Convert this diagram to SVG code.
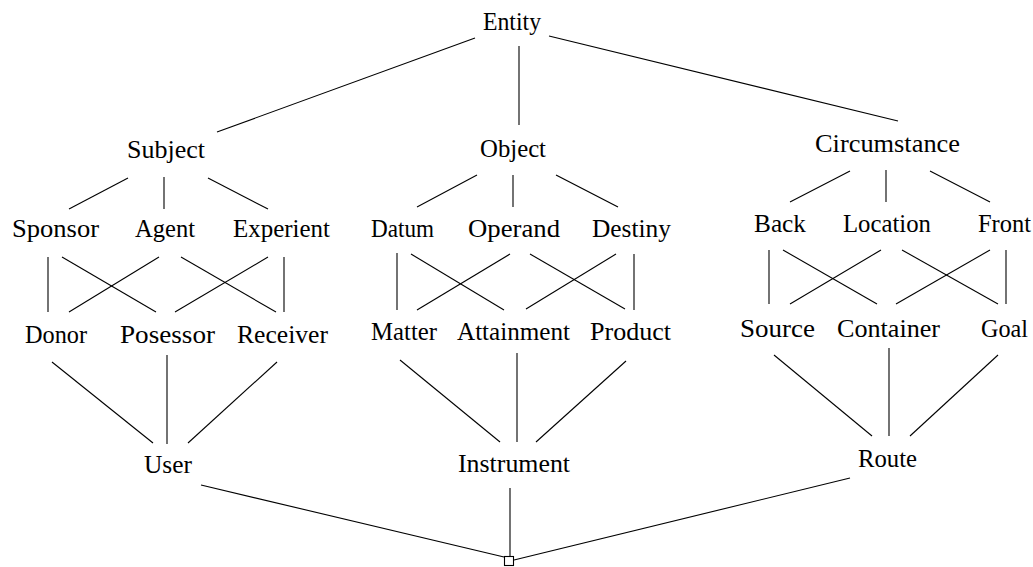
<svg xmlns="http://www.w3.org/2000/svg" width="1033" height="567" viewBox="0 0 1033 567">
<style>
text{font-family:"Liberation Serif","Times New Roman",serif;font-size:25px;fill:#000}
.e line{stroke:#000;stroke-width:1.1;fill:none}
</style>
<rect width="1033" height="567" fill="#fff"/>
<g class="e" id="connectors">
<line x1="475" y1="38" x2="217" y2="132"/>
<line x1="519" y1="46" x2="519" y2="125"/>
<line x1="549" y1="36" x2="898" y2="121"/>
<line x1="128" y1="178" x2="69" y2="209"/>
<line x1="164" y1="177" x2="164" y2="209"/>
<line x1="208" y1="178" x2="268" y2="209"/>
<line x1="477" y1="175" x2="417" y2="207"/>
<line x1="513" y1="175" x2="513" y2="207"/>
<line x1="556" y1="175" x2="618" y2="207"/>
<line x1="850" y1="171" x2="790" y2="202"/>
<line x1="886" y1="170" x2="886" y2="202"/>
<line x1="930" y1="171" x2="990" y2="202"/>
<line x1="48" y1="257" x2="48" y2="312"/>
<line x1="62" y1="257" x2="156" y2="312"/>
<line x1="159" y1="257" x2="69" y2="312"/>
<line x1="181" y1="257" x2="276" y2="312"/>
<line x1="268" y1="257" x2="175" y2="312"/>
<line x1="284" y1="257" x2="284" y2="312"/>
<line x1="397" y1="253" x2="397" y2="310"/>
<line x1="411" y1="254" x2="504" y2="310"/>
<line x1="510" y1="254" x2="417" y2="310"/>
<line x1="530" y1="254" x2="625" y2="309"/>
<line x1="616" y1="254" x2="526" y2="309"/>
<line x1="634" y1="254" x2="634" y2="310"/>
<line x1="769" y1="250" x2="769" y2="304"/>
<line x1="783" y1="250" x2="877" y2="304"/>
<line x1="881" y1="250" x2="790" y2="304"/>
<line x1="902" y1="250" x2="998" y2="304"/>
<line x1="990" y1="250" x2="896" y2="304"/>
<line x1="1006" y1="250" x2="1006" y2="304"/>
<line x1="52" y1="362" x2="153" y2="443"/>
<line x1="167" y1="355" x2="167" y2="444"/>
<line x1="277" y1="362" x2="188" y2="443"/>
<line x1="400" y1="360" x2="500" y2="442"/>
<line x1="517" y1="353" x2="517" y2="442"/>
<line x1="626" y1="361" x2="536" y2="442"/>
<line x1="774" y1="355" x2="872" y2="436"/>
<line x1="889" y1="348" x2="889" y2="436"/>
<line x1="998" y1="355" x2="910" y2="436"/>
<line x1="201" y1="485" x2="504" y2="557"/>
<line x1="510" y1="488" x2="510" y2="556"/>
<line x1="850" y1="478" x2="514" y2="560"/>
</g>
<g id="join"><rect x="504.5" y="556.5" width="9" height="9" fill="#fff" stroke="#000" stroke-width="1.1"/></g>
<g id="entity"><text x="483" y="30" textLength="58" lengthAdjust="spacingAndGlyphs">Entity</text></g>
<g id="subject"><text x="127" y="158" textLength="78" lengthAdjust="spacingAndGlyphs">Subject</text></g>
<g id="object"><text x="480" y="157" textLength="66" lengthAdjust="spacingAndGlyphs">Object</text></g>
<g id="circumstance"><text x="815" y="152" textLength="145" lengthAdjust="spacingAndGlyphs">Circumstance</text></g>
<g id="sponsor"><text x="12" y="237" textLength="87" lengthAdjust="spacingAndGlyphs">Sponsor</text></g>
<g id="agent"><text x="135" y="237" textLength="60" lengthAdjust="spacingAndGlyphs">Agent</text></g>
<g id="experient"><text x="233" y="237" textLength="97" lengthAdjust="spacingAndGlyphs">Experient</text></g>
<g id="datum"><text x="371" y="237" textLength="63" lengthAdjust="spacingAndGlyphs">Datum</text></g>
<g id="operand"><text x="468" y="237" textLength="92" lengthAdjust="spacingAndGlyphs">Operand</text></g>
<g id="destiny"><text x="592" y="237" textLength="79" lengthAdjust="spacingAndGlyphs">Destiny</text></g>
<g id="back"><text x="754" y="232" textLength="52" lengthAdjust="spacingAndGlyphs">Back</text></g>
<g id="location"><text x="843" y="232" textLength="88" lengthAdjust="spacingAndGlyphs">Location</text></g>
<g id="front"><text x="978" y="232" textLength="53" lengthAdjust="spacingAndGlyphs">Front</text></g>
<g id="donor"><text x="25" y="343" textLength="62" lengthAdjust="spacingAndGlyphs">Donor</text></g>
<g id="posessor"><text x="120" y="343" textLength="95" lengthAdjust="spacingAndGlyphs">Posessor</text></g>
<g id="receiver"><text x="237" y="343" textLength="91" lengthAdjust="spacingAndGlyphs">Receiver</text></g>
<g id="matter"><text x="371" y="340" textLength="66" lengthAdjust="spacingAndGlyphs">Matter</text></g>
<g id="attainment"><text x="457" y="340" textLength="113" lengthAdjust="spacingAndGlyphs">Attainment</text></g>
<g id="product"><text x="590" y="340" textLength="81" lengthAdjust="spacingAndGlyphs">Product</text></g>
<g id="source"><text x="740" y="337" textLength="75" lengthAdjust="spacingAndGlyphs">Source</text></g>
<g id="container"><text x="837" y="337" textLength="103" lengthAdjust="spacingAndGlyphs">Container</text></g>
<g id="goal"><text x="981" y="337" textLength="47" lengthAdjust="spacingAndGlyphs">Goal</text></g>
<g id="user"><text x="144" y="473" textLength="48" lengthAdjust="spacingAndGlyphs">User</text></g>
<g id="instrument"><text x="458" y="472" textLength="112" lengthAdjust="spacingAndGlyphs">Instrument</text></g>
<g id="route"><text x="858" y="467" textLength="59" lengthAdjust="spacingAndGlyphs">Route</text></g>
</svg>
